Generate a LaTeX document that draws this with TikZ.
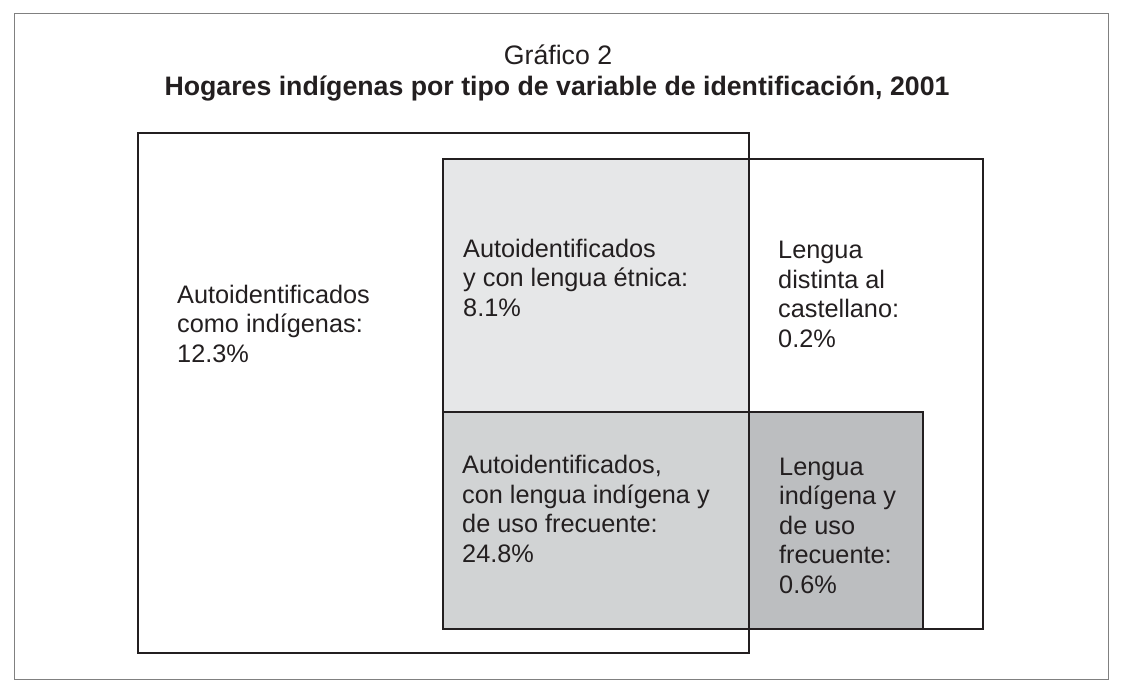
\documentclass[tikz,border=0pt]{standalone}
\usepackage{fontspec}
\setmainfont{Liberation Sans}
\definecolor{ink}{HTML}{231F20}
\definecolor{framegray}{HTML}{808080}
\definecolor{lightfill}{HTML}{E6E7E8}
\definecolor{midfill}{HTML}{D1D3D4}
\definecolor{darkfill}{HTML}{BCBEC0}
\begin{document}
\begin{tikzpicture}[
    x=1pt, y=-1pt,
    every node/.style={inner sep=0pt, align=left, anchor=base west, text=ink,
                       font=\fontsize{25.3}{29.5}\selectfont},
    set/.style={draw=ink, line width=2pt},
    title/.style={anchor=base, align=center, font=\fontsize{26.7}{31}\selectfont}]

\useasboundingbox (0,0) rectangle (1124,681);
\draw[framegray, line width=1pt] (14,13) rectangle (1108,679);

% shaded parts
\fill[lightfill] (443,159) rectangle (749,412);
\fill[midfill]   (443,412) rectangle (749,629);
\fill[darkfill]  (749,412) rectangle (923,629);

% sets
\draw[set] (138,133) rectangle (749,653);
\draw[set] (443,159) rectangle (983,629);
\draw[set] (443,412) -- (923,412) -- (923,629);

% base anchor sits on the last line
\node[title] (num) at (558,64) {Gráfico 2};
\node[title, font=\fontsize{26.7}{31}\selectfont\bfseries] (head) at (557,95)
    {Hogares indígenas por tipo de variable de identificación, 2001};

\node (auto)   at (177,362) {Autoidentificados\\como indígenas:\\12.3\%};
\node (etnica) at (463,316) {Autoidentificados\\y con lengua étnica:\\8.1\%};
\node (dist)   at (778,347) {Lengua\\distinta al\\castellano:\\0.2\%};
\node (uso)    at (462,562) {Autoidentificados,\\con lengua indígena y\\de uso frecuente:\\24.8\%};
\node (freq)   at (779,593) {Lengua\\indígena y\\de uso\\frecuente:\\0.6\%};

\end{tikzpicture}
\end{document}
